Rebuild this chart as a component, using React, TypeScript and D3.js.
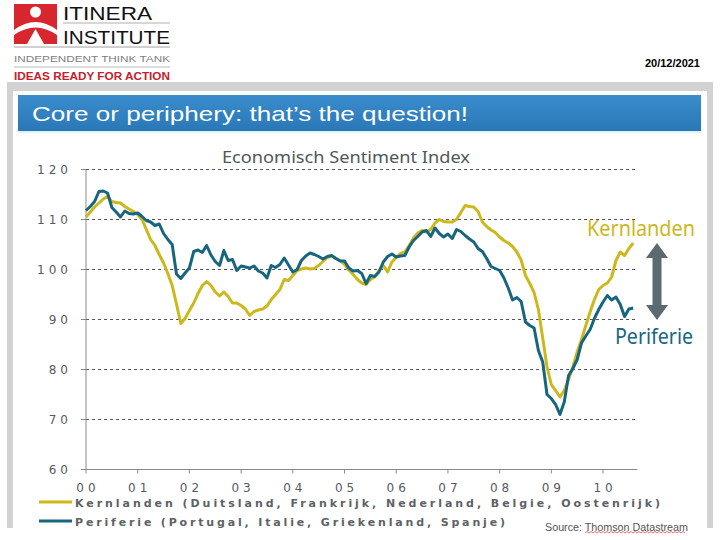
import { scaleLinear, line } from 'd3'

// maandelijkse waarden, jan 2000 - aug 2010
const kernlanden = [
  110.5, 111.5, 112.5, 113.3, 114.1, 114.6, 113.6, 113.4, 113.3, 112.6, 112.1, 111.6,
  111.0, 110.0, 108.0, 106.0, 104.8, 103.0, 101.3, 99.2, 96.8, 93.1, 89.2, 90.2,
  91.8, 93.3, 95.2, 96.8, 97.6, 96.8, 95.5, 94.7, 95.5, 94.6, 93.3, 93.3,
  92.8, 92.1, 90.8, 91.6, 91.9, 92.1, 92.7, 94.0, 95.0, 96.0, 98.0, 97.8,
  98.8, 99.8, 100.1, 100.3, 100.1, 100.2, 100.8, 101.6, 102.4, 102.7, 102.2, 101.8,
  101.0, 99.9, 99.0, 98.0, 97.3, 97.0, 98.0, 98.5, 99.8, 100.8, 99.5, 101.5,
  102.4, 103.2, 103.5, 104.8, 106.3, 107.3, 107.8, 107.5, 108.0, 109.3, 110.0, 109.6,
  109.5, 109.5, 110.0, 111.4, 112.8, 112.6, 112.5, 111.6, 109.5, 108.6, 107.9, 107.4,
  106.5, 105.8, 105.3, 104.6, 103.5, 101.9, 98.8, 97.2, 95.4, 92.0, 86.3, 80.5,
  77.0, 75.8, 74.5, 75.8, 78.0, 80.5, 83.5, 86.0, 88.8, 91.5, 94.0, 96.0,
  96.8, 97.3, 98.5, 101.8, 103.5, 102.8, 104.2, 105.3
]

const periferie = [
  111.8, 112.6, 113.6, 115.6, 115.7, 115.3, 112.4, 111.5, 110.5, 111.7, 111.2, 111.1,
  111.3, 110.6, 109.8, 109.5, 108.8, 109.1, 107.2, 106.0, 105.0, 99.1, 98.2, 99.3,
  100.3, 103.6, 103.9, 103.4, 104.8, 102.9, 101.6, 100.8, 103.8, 101.8, 102.0, 99.8,
  100.7, 100.5, 100.3, 100.7, 99.7, 99.3, 98.3, 100.8, 100.4, 101.0, 102.3, 100.9,
  99.5, 100.0, 101.8, 102.7, 103.3, 103.0, 102.6, 102.1, 102.6, 102.8, 102.2, 101.7,
  101.7, 100.3, 99.7, 99.8, 99.2, 97.2, 98.8, 98.6, 99.5, 101.5, 102.6, 103.1,
  102.5, 102.7, 102.8, 104.5, 105.8, 106.6, 107.5, 107.8, 106.6, 108.3, 107.2, 106.5,
  107.1, 106.2, 108.0, 107.6, 106.8, 106.1, 105.5, 104.2, 103.6, 102.2, 100.6, 100.2,
  99.8, 98.3, 96.3, 93.9, 94.4, 93.6, 89.5, 88.8, 88.3, 83.8, 81.5, 75.0,
  74.2, 73.0, 71.0, 73.5, 78.8, 80.2, 82.0, 85.3, 86.7, 88.0, 90.2, 92.0,
  93.5, 94.8, 93.9, 94.5, 93.0, 90.6, 92.1, 92.3
]

const yearLabels = ['00', '01', '02', '03', '04', '05', '06', '07', '08', '09', '10']
const yTicks = [60, 70, 80, 90, 100, 110, 120]
const seriesNames = ['Kernlanden', 'Periferie']
const legendLabels = [
  'Kernlanden (Duitsland, Frankrijk, Nederland, Belgie, Oostenrijk)',
  'Periferie (Portugal, Italie, Griekenland, Spanje)'
]

const YELLOW = '#CDB81C'
const TEAL = '#17657F'
const AXIS_TEXT = '#555b5e'

export default function App() {
  // x in maanden sinds jan 2000
  const x = scaleLinear().domain([0, 128]).range([86, 637.5])
  const y = scaleLinear().domain([60, 120]).range([469.5, 169.5])

  const lineGen = line<number>()
    .x((_, i) => x(i))
    .y(d => y(d))

  const legendWidths = [585, 430]

  return (
    <svg
      width={720}
      height={540}
      style={{ position: 'absolute', left: 0, top: 0, background: '#fff' }}
    >
      <defs>
        <linearGradient id="bar" x1="0" y1="0" x2="0" y2="1">
          <stop offset="0" stopColor="#3A8DCD" />
          <stop offset="1" stopColor="#2A77B6" />
        </linearGradient>
      </defs>

      {/* logo */}
      <rect x={14} y={4} width={43} height={40} fill="#D7262E" />
      <circle cx={35.5} cy={12} r={5.5} fill="#fff" />
      <path d="M14,30 Q35.5,14 57,30 L57,35 Q35.5,20 14,35 Z" fill="#fff" />
      <path d="M35.5,29 L27,44 L44,44 Z" fill="#fff" />
      <text x={63} y={20} fontFamily="'Liberation Sans', Arial" fontSize={19}
        textLength={89} lengthAdjust="spacingAndGlyphs" fill="#111">ITINERA</text>
      <text x={63} y={44} fontFamily="'Liberation Sans', Arial" fontSize={19}
        textLength={107} lengthAdjust="spacingAndGlyphs" fill="#111">INSTITUTE</text>
      <line x1={63} x2={170} y1={23} y2={23} stroke="#999" strokeWidth={0.8} />
      <line x1={14} x2={170} y1={47} y2={47} stroke="#888" strokeWidth={0.8} />
      <text x={14} y={62} fontFamily="'Liberation Sans', Arial" fontSize={9.5}
        textLength={156} lengthAdjust="spacingAndGlyphs" fill="#808080">INDEPENDENT THINK TANK</text>
      <line x1={14} x2={170} y1={67} y2={67} stroke="#aaa" strokeWidth={0.8} />
      <text x={14} y={80} fontFamily="'Liberation Sans', Arial" fontSize={10.5} fontWeight="bold"
        textLength={156} lengthAdjust="spacingAndGlyphs" fill="#C8202A">IDEAS READY FOR ACTION</text>

      {/* datum */}
      <text x={700} y={67} textAnchor="end" fontFamily="'Liberation Sans', Arial" fontSize={11}
        fontWeight="bold" fill="#000">20/12/2021</text>

      {/* kader */}
      <rect x={7} y={82} width={706} height={9} fill="#d2d2d2" />
      <rect x={7} y={82} width={6} height={446} fill="#d2d2d2" />
      <rect x={707} y={82} width={6} height={446} fill="#d2d2d2" />

      {/* titelbalk */}
      <rect x={18} y={95} width={683} height={36} fill="url(#bar)" />
      <line x1={18} x2={701} y1={132} y2={132} stroke="#d6ecf7" strokeWidth={1.5} />
      <text x={32} y={121} fontFamily="'Liberation Sans', Arial" fontSize={21} fill="#fff"
        textLength={436} lengthAdjust="spacingAndGlyphs">Core or periphery: that’s the question!</text>

      {/* grafiektitel */}
      <text x={346} y={163} textAnchor="middle" fontFamily="'Noto Sans', sans-serif" fontSize={17}
        fill="#505858" textLength={248} lengthAdjust="spacingAndGlyphs">Economisch Sentiment Index</text>

      {/* rasterlijnen */}
      {yTicks.filter(t => t > 60).map(t => (
        <line key={t} x1={x(0)} x2={x(128)} y1={y(t)} y2={y(t)}
          stroke="#555" strokeWidth={1} strokeDasharray="3,3" />
      ))}

      {/* assen */}
      <line x1={x(0)} x2={x(0)} y1={y(120)} y2={y(60)} stroke="#8a8a8a" strokeWidth={1} />
      <line x1={x(0)} x2={x(128)} y1={y(60)} y2={y(60)} stroke="#8a8a8a" strokeWidth={1} />
      {yTicks.map(t => (
        <g key={t}>
          <line x1={x(0) - 5} x2={x(0)} y1={y(t)} y2={y(t)} stroke="#8a8a8a" />
          <text x={72} y={y(t) + 4.5} textAnchor="end" fontFamily="'DejaVu Sans', Verdana" fontSize={12}
            letterSpacing={4} fill={AXIS_TEXT}>{t}</text>
        </g>
      ))}
      {yearLabels.map((lab, i) => (
        <g key={lab}>
          <line x1={x(i * 12)} x2={x(i * 12)} y1={y(60)} y2={y(60) + 4} stroke="#8a8a8a" />
          <text x={x(i * 12) + 2} y={492} textAnchor="middle" fontFamily="'DejaVu Sans', Verdana" fontSize={12}
            letterSpacing={4} fill={AXIS_TEXT}>{lab}</text>
        </g>
      ))}

      {/* lijnen */}
      <path d={lineGen(kernlanden) ?? ''} fill="none" stroke={YELLOW} strokeWidth={3} strokeLinejoin="round" />
      <path d={lineGen(periferie) ?? ''} fill="none" stroke={TEAL} strokeWidth={3} strokeLinejoin="round" />

      {/* labels rechts */}
      <text x={587} y={236} fontFamily="'Noto Sans', sans-serif" fontSize={21} fill={YELLOW}
        textLength={108} lengthAdjust="spacingAndGlyphs">{seriesNames[0]}</text>
      <text x={615} y={344} fontFamily="'Noto Sans', sans-serif" fontSize={21} fill={TEAL}
        textLength={78} lengthAdjust="spacingAndGlyphs">{seriesNames[1]}</text>

      {/* dubbele pijl */}
      <path d="M657,243 L668,258 L661.5,258 L661.5,305 L668,305 L657,320 L646,305 L652.5,305 L652.5,258 L646,258 Z"
        fill="#5B6A6E" />

      {/* legende */}
      {legendLabels.map((lab, i) => (
        <g key={lab}>
          <line x1={39} x2={72} y1={502 + i * 19} y2={502 + i * 19}
            stroke={i === 0 ? YELLOW : TEAL} strokeWidth={3} />
          <text x={75} y={507 + i * 19} fontFamily="'DejaVu Sans', Verdana" fontSize={11}
            fontWeight="bold" fill="#5c6265" textLength={legendWidths[i]} lengthAdjust="spacing">{lab}</text>
        </g>
      ))}

      {/* bron */}
      <text x={545} y={531} fontFamily="'Liberation Sans', Arial" fontSize={10} fill="#555"
        textLength={143} lengthAdjust="spacingAndGlyphs">Source: Thomson Datastream</text>
      <path d="M585,533 l2,-1.5 l2,1.5 l2,-1.5 l2,1.5 l2,-1.5 l2,1.5 l2,-1.5 l2,1.5 l2,-1.5 l2,1.5 l2,-1.5 l2,1.5 l2,-1.5 l2,1.5 l2,-1.5 l2,1.5 l2,-1.5 l2,1.5 l2,-1.5 l2,1.5 l2,-1.5 l2,1.5 l2,-1.5 l2,1.5 l2,-1.5 l2,1.5 l2,-1.5 l2,1.5 l2,-1.5 l2,1.5 l2,-1.5 l2,1.5 l2,-1.5 l2,1.5 l2,-1.5 l2,1.5 l2,-1.5 l2,1.5 l2,-1.5 l2,1.5 l2,-1.5 l2,1.5 l2,-1.5 l2,1.5 l2,-1.5 l2,1.5 l2,-1.5 l2,1.5 l2,-1.5 l2,1.5"
        fill="none" stroke="#d33" strokeWidth={0.7} />
    </svg>
  )
}
